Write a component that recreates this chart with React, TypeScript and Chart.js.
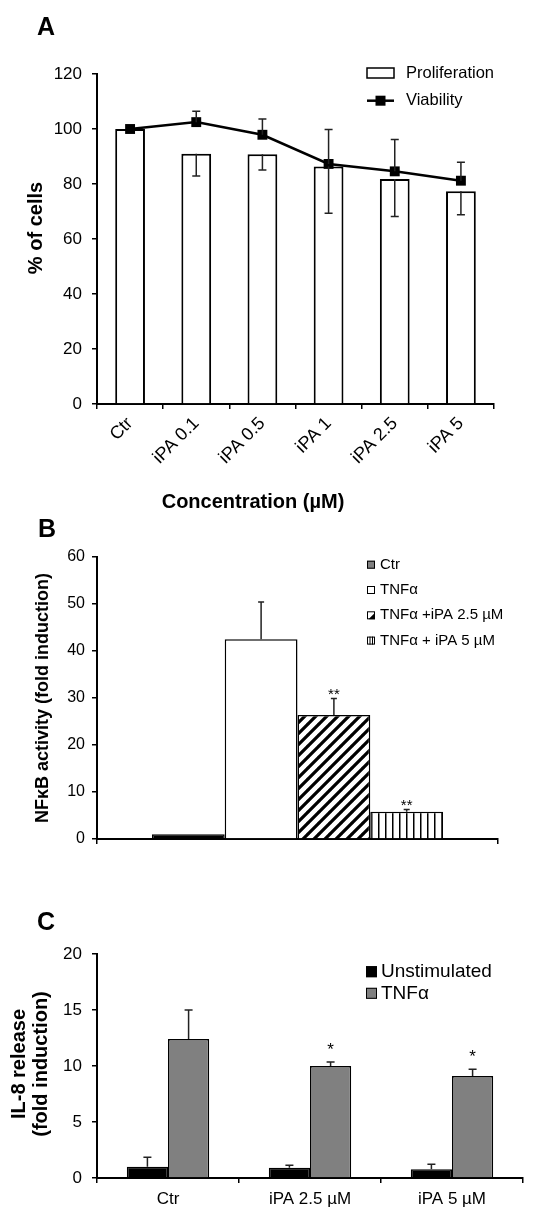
import React, { useEffect, useRef } from "react";
import { Chart, registerables } from "chart.js";

Chart.register(...registerables);

const FONT = "'Liberation Sans', Arial, Helvetica, sans-serif";

// ---------- Panel A data ----------
const concentrationLabels = ["Ctr", "iPA 0.1", "iPA 0.5", "iPA 1", "iPA 2.5", "iPA 5"];
const proliferation = [100, 91.0, 90.8, 86.4, 81.8, 77.4];
const proliferationErr = [0, 8.1, 5.7, 17.0, 13.6, 8.6];
const viability = [100, 102.5, 97.9, 87.3, 84.6, 81.2];
const viabilityErr = [0, 4.0, 5.7, 12.5, 11.6, 6.7];
const yA = { min: 0, max: 120, step: 20 };

// ---------- Panel B data ----------
const nfkbLabels = ["Ctr", "TNFα", "TNFα +iPA 2.5 µM", "TNFα + iPA 5 µM"];
const nfkbValues = [1.0, 42.5, 26.4, 5.8];
const nfkbErr = [0, 7.9, 3.5, 0.5];
const nfkbSig = ["", "", "**", "**"];
const yB = { min: 0, max: 60, step: 10 };

// ---------- Panel C data ----------
const il8Categories = ["Ctr", "iPA 2.5 µM", "iPA 5 µM"];
const il8SeriesNames = ["Unstimulated", "TNFα"];
const il8Unstim = [1.0, 0.92, 0.78];
const il8UnstimErr = [0.85, 0.22, 0.45];
const il8Tnf = [12.4, 10.0, 9.1];
const il8TnfErr = [2.6, 0.35, 0.62];
const il8Sig = ["", "*", "*"];
const yC = { min: 0, max: 20, step: 5 };

// ---------- layout boxes (canvas-local) ----------
const BOX_A = { top: 0, width: 542, height: 515, areaLeft: 97, areaRight: 494, areaTop: 74, areaBottom: 404 };
const BOX_B = { top: 515, width: 542, height: 355, areaLeft: 97, areaRight: 498, areaTop: 42, areaBottom: 324 };
const BOX_C = { top: 870, width: 542, height: 337, areaLeft: 97, areaRight: 523, areaTop: 84, areaBottom: 308 };

type TextItem = {
  text: string;
  x: number;
  y: number;
  font: string;
  align?: CanvasTextAlign;
  baseline?: CanvasTextBaseline;
  rotate?: number;
};

const textPlugin = (id: string, items: TextItem[]) => ({
  id,
  afterDraw(chart: any) {
    const ctx = chart.ctx as CanvasRenderingContext2D;
    items.forEach((it) => {
      ctx.save();
      ctx.translate(it.x, it.y);
      if (it.rotate) ctx.rotate(it.rotate);
      ctx.font = it.font;
      ctx.fillStyle = "#000";
      ctx.textAlign = it.align || "center";
      ctx.textBaseline = it.baseline || "middle";
      ctx.fillText(it.text, 0, 0);
      ctx.restore();
    });
  },
});

const errorBarPlugin = {
  id: "errorBars",
  afterDatasetsDraw(chart: any) {
    const ctx = chart.ctx as CanvasRenderingContext2D;
    const yScale = chart.scales.y;
    chart.data.datasets.forEach((ds: any, di: number) => {
      if (!ds.errorBars) return;
      const meta = chart.getDatasetMeta(di);
      const dir = ds.errorDir || 1;
      meta.data.forEach((el: any, i: number) => {
        const v = ds.data[i];
        const e = ds.errorBars[i];
        const x = el.x;
        const top = yScale.getPixelForValue(v + (dir > 0 ? e : 0));
        if (e) {
          const y0 = yScale.getPixelForValue(v);
          const y1 = yScale.getPixelForValue(v + dir * e);
          ctx.save();
          ctx.strokeStyle = ds.errorColor || "#222";
          ctx.lineWidth = ds.errorWidth || 1.5;
          ctx.beginPath();
          ctx.moveTo(x, y0);
          ctx.lineTo(x, y1);
          const cw = ds.errorCap || 4;
          ctx.moveTo(x - cw, y1);
          ctx.lineTo(x + cw, y1);
          ctx.stroke();
          ctx.restore();
        }
        if (ds.sig && ds.sig[i]) {
          ctx.save();
          ctx.font = ds.sigFont;
          ctx.fillStyle = "#000";
          ctx.textAlign = "center";
          ctx.textBaseline = "alphabetic";
          ctx.fillText(ds.sig[i], x, top + (ds.sigOffset || 0));
          ctx.restore();
        }
      });
    });
  },
};

function axisOptions(box: any, y: any, tickFont: number, tickPad: number, xTicks: any) {
  return {
    x: {
      type: "category",
      offset: true,
      grid: { display: true, offset: true, drawOnChartArea: false, drawTicks: true, tickLength: 5, color: "#000", lineWidth: 1.5 },
      border: { display: true, color: "#000", width: 2 },
      ticks: xTicks,
      afterFit: (s: any) => {
        s.height = box.height - box.areaBottom;
      },
    },
    y: {
      min: y.min,
      max: y.max,
      ticks: { stepSize: y.step, color: "#000", font: { family: FONT, size: tickFont }, padding: tickPad },
      grid: { display: true, drawOnChartArea: false, drawTicks: true, tickLength: 5, color: "#000", lineWidth: 1.5 },
      border: { display: true, color: "#000", width: 2 },
      afterFit: (s: any) => {
        s.width = box.areaLeft;
      },
    },
  };
}

function baseOptions(box: any) {
  return {
    responsive: false,
    animation: false,
    events: [],
    layout: { padding: { top: box.areaTop, right: box.width - box.areaRight, left: 0, bottom: 0 } },
    plugins: { legend: { display: false }, tooltip: { enabled: false }, title: { display: false } },
  };
}

function makeDiagonalPattern(): CanvasPattern | string {
  const s = 11;
  const c = document.createElement("canvas");
  c.width = s;
  c.height = s;
  const g = c.getContext("2d");
  if (!g) return "#000";
  g.fillStyle = "#fff";
  g.fillRect(0, 0, s, s);
  g.strokeStyle = "#000";
  g.lineWidth = 3.2;
  g.beginPath();
  for (let k = 0; k <= 2; k++) {
    g.moveTo(k * s + 1, -1);
    g.lineTo(k * s - s - 1, s + 1);
  }
  g.stroke();
  return g.createPattern(c, "repeat") || "#000";
}

function makeVerticalPattern(): CanvasPattern | string {
  const w = 7;
  const c = document.createElement("canvas");
  c.width = w;
  c.height = 4;
  const g = c.getContext("2d");
  if (!g) return "#000";
  g.fillStyle = "#fff";
  g.fillRect(0, 0, w, 4);
  g.fillStyle = "#000";
  g.fillRect(0, 0, 1.5, 4);
  return g.createPattern(c, "repeat") || "#000";
}

function useChart(ref: React.RefObject<HTMLCanvasElement | null>, build: () => any) {
  useEffect(() => {
    if (!ref.current) return;
    const chart = new Chart(ref.current, build());
    return () => chart.destroy();
  }, []);
}

function PanelA() {
  const ref = useRef<HTMLCanvasElement>(null);
  useChart(ref, () => {
    const legend = {
      id: "legendA",
      afterDraw(chart: any) {
        const ctx = chart.ctx as CanvasRenderingContext2D;
        ctx.save();
        ctx.fillStyle = "#fff";
        ctx.fillRect(367, 68, 27, 10);
        ctx.strokeStyle = "#000";
        ctx.lineWidth = 1.5;
        ctx.strokeRect(367, 68, 27, 10);
        ctx.lineWidth = 2.5;
        ctx.beginPath();
        ctx.moveTo(367, 100.7);
        ctx.lineTo(394, 100.7);
        ctx.stroke();
        ctx.fillStyle = "#000";
        ctx.fillRect(375.5, 95.7, 10, 10);
        ctx.font = `16.5px ${FONT}`;
        ctx.textAlign = "left";
        ctx.textBaseline = "middle";
        ctx.fillText("Proliferation", 406, 73.3);
        ctx.fillText("Viability", 406, 100.7);
        ctx.restore();
      },
    };
    return {
      type: "bar",
      data: {
        labels: concentrationLabels,
        datasets: [
          {
            type: "line",
            label: "Viability",
            data: viability,
            borderColor: "#000",
            backgroundColor: "#000",
            borderWidth: 2.5,
            pointStyle: "rect",
            pointRadius: 7,
            pointBackgroundColor: "#000",
            pointBorderWidth: 0,
            tension: 0,
            order: 0,
            errorBars: viabilityErr,
            errorDir: 1,
            errorCap: 4,
          },
          {
            type: "bar",
            label: "Proliferation",
            data: proliferation,
            backgroundColor: "#fff",
            borderColor: "#000",
            borderWidth: 2,
            barPercentage: 0.45,
            categoryPercentage: 1,
            order: 1,
            errorBars: proliferationErr,
            errorDir: -1,
            errorCap: 4,
          },
        ],
      },
      options: {
        ...baseOptions(BOX_A),
        scales: axisOptions(BOX_A, yA, 17, 10, {
          color: "#000",
          font: { family: FONT, size: 18 },
          minRotation: 45,
          maxRotation: 45,
          padding: 4,
          autoSkip: false,
        }),
      },
      plugins: [
        errorBarPlugin,
        legend,
        textPlugin("textA", [
          { text: "A", x: 37, y: 35, font: `bold 25px ${FONT}`, align: "left", baseline: "alphabetic" },
          { text: "% of cells", x: 36, y: 228, font: `bold 20px ${FONT}`, rotate: -Math.PI / 2 },
          { text: "Concentration (µM)", x: 253, y: 502, font: `bold 20px ${FONT}` },
        ]),
      ],
    };
  });
  return (
    <canvas
      ref={ref}
      width={BOX_A.width}
      height={BOX_A.height}
      style={{ position: "absolute", left: 0, top: BOX_A.top, width: BOX_A.width, height: BOX_A.height }}
    />
  );
}

function PanelB() {
  const ref = useRef<HTMLCanvasElement>(null);
  useChart(ref, () => {
    const diag = makeDiagonalPattern();
    const vert = makeVerticalPattern();
    const fills: any[] = ["#000", "#fff", diag, vert];
    const legendSwatch = ["#808080", "#fff", "diag", "vert"];
    const legendY = [49.7, 75, 100.3, 125.6];
    const legend = {
      id: "legendB",
      afterDraw(chart: any) {
        const ctx = chart.ctx as CanvasRenderingContext2D;
        ctx.save();
        nfkbLabels.forEach((lab, i) => {
          const x = 367;
          const y = legendY[i] - 4;
          const s = 8;
          ctx.fillStyle = legendSwatch[i] === "diag" || legendSwatch[i] === "vert" ? "#fff" : legendSwatch[i];
          ctx.fillRect(x, y, s, s);
          ctx.fillStyle = "#000";
          if (legendSwatch[i] === "diag") {
            ctx.beginPath();
            ctx.moveTo(x + s, y + 1.5);
            ctx.lineTo(x + s, y + s);
            ctx.lineTo(x + 1.5, y + s);
            ctx.closePath();
            ctx.fill();
          } else if (legendSwatch[i] === "vert") {
            ctx.fillRect(x + 2.5, y, 1, s);
            ctx.fillRect(x + 5, y, 1, s);
          }
          ctx.strokeStyle = "#000";
          ctx.lineWidth = 1;
          ctx.strokeRect(x + 0.5, y + 0.5, s - 1, s - 1);
          ctx.font = `15px ${FONT}`;
          ctx.textAlign = "left";
          ctx.textBaseline = "middle";
          ctx.fillText(lab, 380, legendY[i]);
        });
        ctx.restore();
      },
    };
    return {
      type: "bar",
      data: {
        labels: [""],
        datasets: nfkbValues.map((v, i) => ({
          label: nfkbLabels[i],
          data: [v],
          backgroundColor: fills[i],
          borderColor: "#000",
          borderWidth: 1.5,
          barPercentage: 1,
          categoryPercentage: 0.726,
          errorBars: [nfkbErr[i]],
          errorDir: 1,
          errorCap: 3,
          sig: [nfkbSig[i]],
          sigFont: `15px ${FONT}`,
          sigOffset: 0.5,
        })),
      },
      options: {
        ...baseOptions(BOX_B),
        scales: axisOptions(BOX_B, yB, 16, 7, { display: true, color: "#000", font: { family: FONT, size: 16 } }),
      },
      plugins: [
        errorBarPlugin,
        legend,
        textPlugin("textB", [
          { text: "B", x: 38, y: 22, font: `bold 25px ${FONT}`, align: "left", baseline: "alphabetic" },
          { text: "NFκB activity (fold induction)", x: 43, y: 183, font: `bold 18px ${FONT}`, rotate: -Math.PI / 2 },
        ]),
      ],
    };
  });
  return (
    <canvas
      ref={ref}
      width={BOX_B.width}
      height={BOX_B.height}
      style={{ position: "absolute", left: 0, top: BOX_B.top, width: BOX_B.width, height: BOX_B.height }}
    />
  );
}

function PanelC() {
  const ref = useRef<HTMLCanvasElement>(null);
  useChart(ref, () => {
    const colors = ["#000", "#808080"];
    const legendY = [101.7, 123.3];
    const legend = {
      id: "legendC",
      afterDraw(chart: any) {
        const ctx = chart.ctx as CanvasRenderingContext2D;
        ctx.save();
        il8SeriesNames.forEach((name, i) => {
          const x = 366;
          const s = 11;
          const y = legendY[i] - s / 2;
          ctx.fillStyle = colors[i];
          ctx.fillRect(x, y, s, s);
          ctx.strokeStyle = "#000";
          ctx.lineWidth = 1;
          ctx.strokeRect(x + 0.5, y + 0.5, s - 1, s - 1);
          ctx.fillStyle = "#000";
          ctx.font = `19px ${FONT}`;
          ctx.textAlign = "left";
          ctx.textBaseline = "middle";
          ctx.fillText(name, 381, legendY[i]);
        });
        ctx.restore();
      },
    };
    const common = {
      borderColor: "#000",
      borderWidth: 1.5,
      barPercentage: 1,
      categoryPercentage: 0.58,
      errorDir: 1,
      errorCap: 4,
      sigFont: `17px ${FONT}`,
      sigOffset: -7,
    };
    return {
      type: "bar",
      data: {
        labels: il8Categories,
        datasets: [
          { ...common, label: il8SeriesNames[0], data: il8Unstim, backgroundColor: colors[0], errorBars: il8UnstimErr },
          { ...common, label: il8SeriesNames[1], data: il8Tnf, backgroundColor: colors[1], errorBars: il8TnfErr, sig: il8Sig },
        ],
      },
      options: {
        ...baseOptions(BOX_C),
        scales: axisOptions(BOX_C, yC, 17, 10, { color: "#000", font: { family: FONT, size: 17 }, padding: 6, maxRotation: 0 }),
      },
      plugins: [
        errorBarPlugin,
        legend,
        textPlugin("textC", [
          { text: "C", x: 37, y: 60, font: `bold 25px ${FONT}`, align: "left", baseline: "alphabetic" },
          { text: "IL-8 release", x: 19, y: 194, font: `bold 20px ${FONT}`, rotate: -Math.PI / 2 },
          { text: "(fold induction)", x: 41, y: 194, font: `bold 20px ${FONT}`, rotate: -Math.PI / 2 },
        ]),
      ],
    };
  });
  return (
    <canvas
      ref={ref}
      width={BOX_C.width}
      height={BOX_C.height}
      style={{ position: "absolute", left: 0, top: BOX_C.top, width: BOX_C.width, height: BOX_C.height }}
    />
  );
}

export default function App() {
  return (
    <div
      style={{
        position: "absolute",
        left: 0,
        top: 0,
        width: 542,
        height: 1207,
        overflow: "hidden",
        background: "#fff",
      }}
    >
      <PanelA />
      <PanelB />
      <PanelC />
    </div>
  );
}
